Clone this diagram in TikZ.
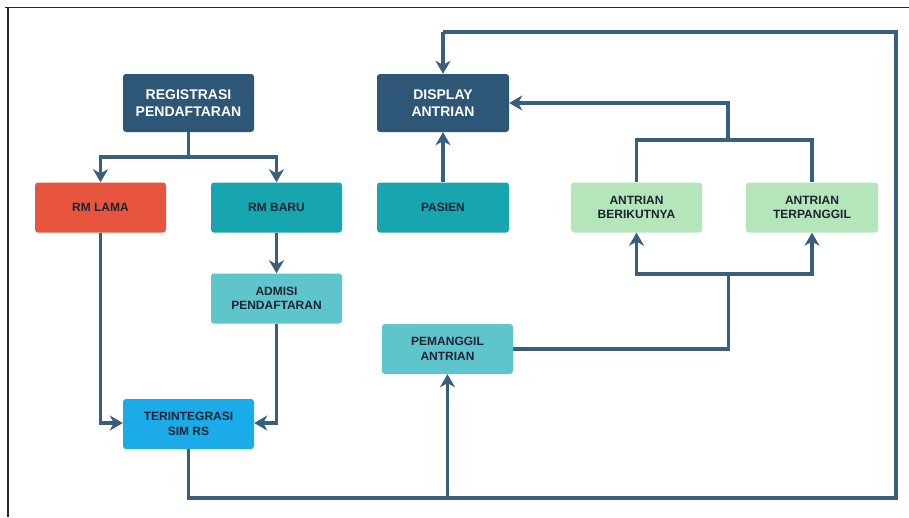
\documentclass[tikz,border=0pt]{standalone}
\usepackage{fontspec}
\setmainfont{Liberation Sans}
\usetikzlibrary{arrows.meta}
\definecolor{darkbl}{HTML}{2E5676}
\definecolor{lineC}{HTML}{3A5F7D}
\definecolor{redC}{HTML}{E8553F}
\definecolor{tealC}{HTML}{17A5B0}
\definecolor{ltealC}{HTML}{5FC5CC}
\definecolor{brightC}{HTML}{1AABE8}
\definecolor{greenC}{HTML}{B5E6B9}
\definecolor{txtC}{HTML}{1C2333}
\tikzset{
  box/.style={rounded corners=3pt, minimum width=131pt, minimum height=50pt, align=center, font=\bfseries\fontsize{12}{14.5}\selectfont, text=txtC, inner sep=0pt},
  bigbox/.style={box, minimum height=58pt, fill=darkbl, text=white, font=\bfseries\fontsize{14}{17}\selectfont},
  conn/.style={draw=lineC, line width=3.2pt},
  arr/.style={conn, -{Stealth[length=13pt,width=15pt,inset=4pt]}},
}
\begin{document}
\begin{tikzpicture}[x=1pt,y=-1pt]
\useasboundingbox (0,0) rectangle (909,517);
\fill[white] (0,0) rectangle (909,517);
\draw[black!85, line width=1.5pt] (5,7.5) -- (909,7.5);
\draw[black!85, line width=1.5pt] (8,7) -- (8,517);

\node[bigbox] (reg) at (188.5,103) {REGISTRASI\\PENDAFTARAN};
\node[box, fill=redC] (lama) at (100.5,207.5) {RM LAMA};
\node[box, fill=tealC] (baru) at (276.5,207.5) {RM BARU};
\node[box, fill=ltealC] (admisi) at (276.5,298.5) {ADMISI\\PENDAFTARAN};
\node[box, fill=brightC] (sim) at (188.5,424) {TERINTEGRASI\\SIM RS};

\node[bigbox, minimum width=132pt] (disp) at (443,103) {DISPLAY\\ANTRIAN};
\node[box, minimum width=132pt, fill=tealC] (pasien) at (443,207.5) {PASIEN};
\node[box, fill=greenC] (berik) at (636.5,207.5) {ANTRIAN\\BERIKUTNYA};
\node[box, minimum width=132pt, fill=greenC] (terp) at (812,207.5) {ANTRIAN\\TERPANGGIL};
\node[box, fill=ltealC] (pem) at (447.5,349) {PEMANGGIL\\ANTRIAN};

% registrasi split
\coordinate (rj) at (188.5,157);
\draw[conn] (reg.south) -- (rj);
\draw[arr] (rj) -| (lama.north);
\draw[arr] (rj) -| (baru.north);
\draw[arr] (baru.south) -- (admisi.north);
\draw[arr] (lama.south) |- ([yshift=1pt]sim.west);
\draw[arr] (admisi.south) |- ([yshift=1pt]sim.east);

% display
\draw[arr] (pasien.north) -- (disp.south);
\coordinate (aj) at (728,140);
\draw[conn] (berik.north) |- (aj) -| (terp.north);
\draw[arr] (aj) |- (disp.east);

% pemanggil
\coordinate (pj) at (728.5,274);
\draw[conn] (pem.east) -| (pj);
\draw[arr] (pj) -| (berik.south);
\draw[arr] (pj) -| (terp.south);

% bottom loop
\coordinate (b1) at (188.5,498);
\coordinate (b2) at (447.5,498);
\coordinate (b3) at (896,498);
\coordinate (b4) at (896,32);
\coordinate (b5) at (443,32);
\draw[conn] (sim.south) -- (b1) -- (b3) -- (b4) -- (b5);
\draw[arr] (b5) -- (disp.north);
\draw[arr] (b2) -- (pem.south);
\end{tikzpicture}
\end{document}
